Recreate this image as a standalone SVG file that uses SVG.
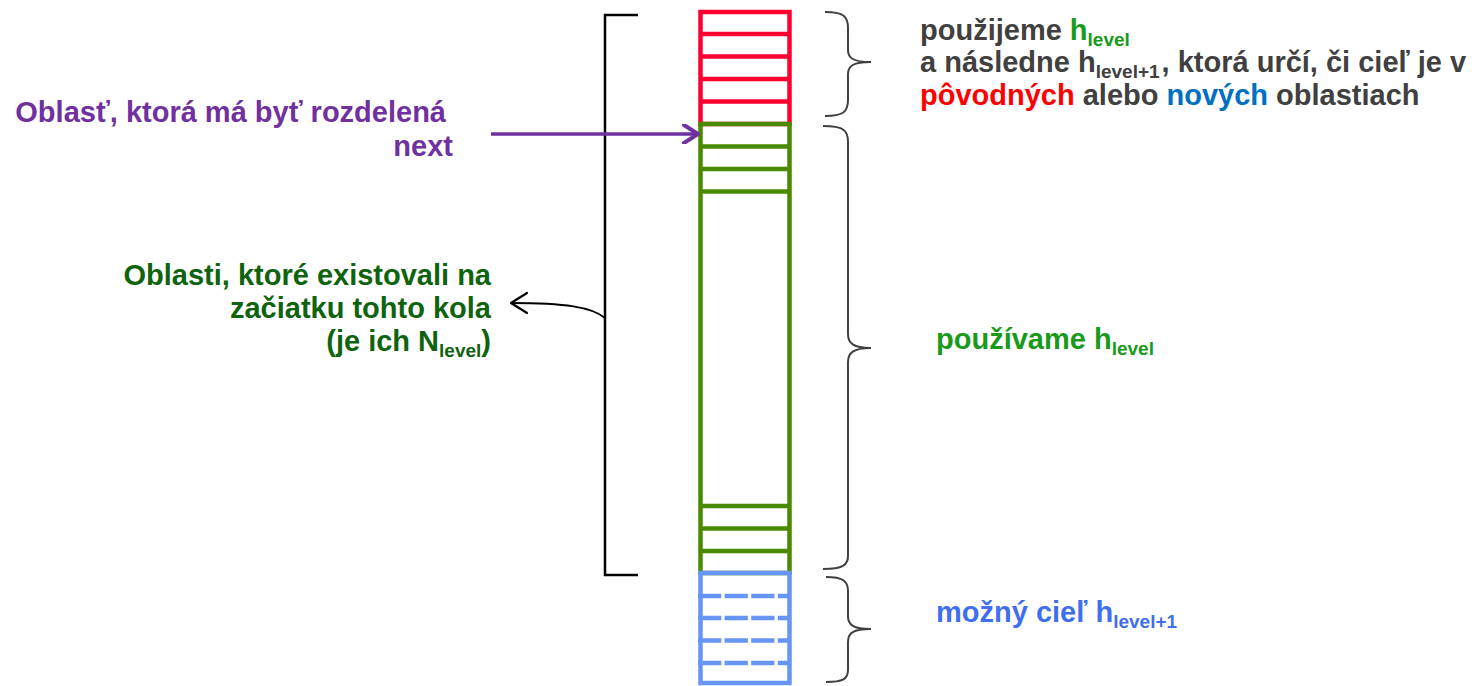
<svg xmlns="http://www.w3.org/2000/svg" width="1477" height="686" viewBox="0 0 1477 686">
  <style>
    text { font-family: "Liberation Sans", Arial, sans-serif; font-weight: bold; font-size: 29px; }
    .sub { font-size: 19px; }
    .cell { fill: none; stroke-width: 4.5; }
    .red { stroke: #fe0030; }
    .grn { stroke: #4a8a00; }
    .blu { stroke: #6695f5; }
    .dash { stroke-dasharray: 23.3 3.3; }
    .brace { fill: none; stroke: #404040; stroke-width: 2; }
  </style>
  <defs>
    <marker id="openHeadPurple" viewBox="0 0 20 20" refX="17" refY="10" markerWidth="20" markerHeight="20" markerUnits="userSpaceOnUse" orient="auto">
      <path d="M3,1 L17,10 L3,19" fill="none" stroke="#7030a0" stroke-width="4" stroke-linecap="round" stroke-linejoin="round"/>
    </marker>
    <marker id="openHeadBlack" viewBox="0 0 20 24" refX="18" refY="12" markerWidth="20" markerHeight="24" markerUnits="userSpaceOnUse" orient="auto">
      <path d="M2,2 L18,12 L2,22" fill="none" stroke="#000" stroke-width="2.2" stroke-linecap="round" stroke-linejoin="round"/>
    </marker>
  </defs>

  <!-- bucket column: original buckets (red), existing buckets (green), new buckets (blue) -->
  <g id="red-buckets">
    <rect class="cell red" x="700.5" y="12" width="89" height="112"/>
    <path class="cell red" d="M700.5,34 H789.5 M700.5,56.5 H789.5 M700.5,79 H789.5 M700.5,101.5 H789.5"/>
  </g>
  <g id="green-buckets">
    <rect class="cell grn" x="700.5" y="124" width="89" height="449"/>
    <path class="cell grn" d="M700.5,146.5 H789.5 M700.5,169 H789.5 M700.5,191.5 H789.5 M700.5,506 H789.5 M700.5,528.5 H789.5 M700.5,551 H789.5"/>
  </g>
  <g id="blue-buckets">
    <path class="cell blu dash" d="M698,596 H790 M698,618 H790 M698,640.5 H790 M698,663 H790"/>
    <rect class="cell blu" x="700.5" y="573" width="89" height="110"/>
  </g>

  <!-- square bracket on the left of the column -->
  <g id="bracket">
    <path d="M638,15 H605 V575 H638" fill="none" stroke="#000" stroke-width="2.5"/>
  </g>

  <!-- curly braces on the right -->
  <g id="braces">
    <path class="brace" d="M825,12 C843,12 848,16 848,28 V50 C848,58 853,62 871,62 C853,62 848,66 848,74 V100 C848,112 843,116 825,116"/>
    <path class="brace" d="M823,126 C843,126 848,130 848,142 V334 C848,343 853,348 871,348 C853,348 848,353 848,362 V556 C848,565 843,569 823,569"/>
    <path class="brace" d="M826,577 C843,577 848,581 848,591 V616 C848,625 853,629 871,629 C853,629 848,633 848,642 V670 C848,679 843,682 826,682"/>
  </g>

  <!-- connectors -->
  <g id="connectors">
    <path d="M491,134 H698" fill="none" stroke="#7030a0" stroke-width="3.5" marker-end="url(#openHeadPurple)"/>
    <path d="M605,318 C592,307 565,303 511,303" fill="none" stroke="#000" stroke-width="2" marker-end="url(#openHeadBlack)"/>
  </g>

  <!-- labels -->
  <g id="label-next" fill="#7030a0" text-anchor="end">
    <text x="446" y="122">Oblasť, ktorá má byť rozdelená</text>
    <text x="453" y="156">next</text>
  </g>

  <g id="label-existing" fill="#0e640e" text-anchor="end">
    <text x="491" y="285">Oblasti, ktoré existovali na</text>
    <text x="491" y="318">začiatku tohto kola</text>
    <text x="491" y="351">(je ich N<tspan class="sub" dy="6">level</tspan><tspan dy="-6">)</tspan></text>
  </g>

  <g id="label-top" fill="#404040">
    <text x="920" y="39.5">použijeme <tspan fill="#1a9a1a">h<tspan class="sub" dy="6.4">level</tspan></tspan></text>
    <text x="920" y="72">a následne h<tspan class="sub" dy="6.4">level+1</tspan><tspan dx="2" dy="-6.4">, ktorá určí, či cieľ je v</tspan></text>
    <text x="920" y="104.5"><tspan fill="#ff0000">pôvodných</tspan> alebo <tspan fill="#0070c0">nových</tspan> oblastiach</text>
  </g>

  <g id="label-middle" fill="#1a9a1a">
    <text x="936" y="349">používame h<tspan class="sub" dy="6.4">level</tspan></text>
  </g>

  <g id="label-bottom" fill="#3f6ff0">
    <text x="936" y="622">možný cieľ h<tspan class="sub" dy="6.4">level+1</tspan></text>
  </g>
</svg>
